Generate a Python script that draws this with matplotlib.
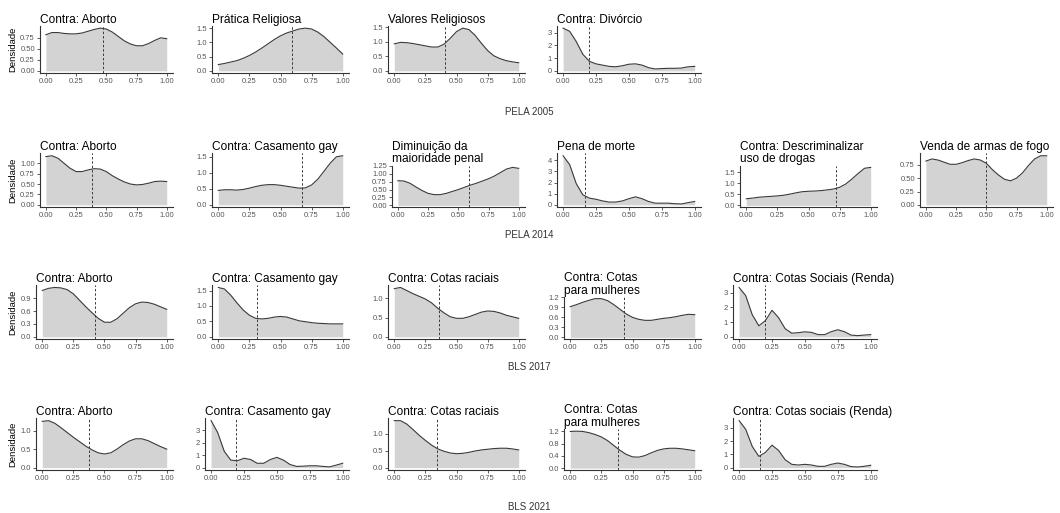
import numpy as np
import matplotlib.pyplot as plt

plt.rcParams['font.family'] = ['Liberation Sans', 'DejaVu Sans']

# points where the densities were evaluated
x_grid = np.linspace(0, 1, 21)

# PELA 2005
pela05_titles = ['Contra: Aborto', 'Prática Religiosa', 'Valores Religiosos', 'Contra: Divórcio']
pela05_aborto = [0.82, 0.87, 0.87, 0.85, 0.84, 0.84, 0.86, 0.90, 0.94, 0.97, 0.95, 0.88, 0.78, 0.68, 0.61, 0.57, 0.57, 0.62, 0.69, 0.75, 0.73]
pela05_pratica = [0.22, 0.26, 0.31, 0.36, 0.44, 0.54, 0.66, 0.80, 0.95, 1.10, 1.23, 1.33, 1.40, 1.47, 1.50, 1.47, 1.36, 1.20, 1.00, 0.80, 0.59]
pela05_valores = [0.93, 0.98, 0.97, 0.94, 0.90, 0.86, 0.82, 0.82, 0.92, 1.12, 1.35, 1.47, 1.42, 1.22, 0.95, 0.70, 0.52, 0.42, 0.35, 0.31, 0.28]
pela05_divorcio = [3.35, 3.10, 2.30, 1.30, 0.75, 0.55, 0.45, 0.35, 0.32, 0.40, 0.52, 0.55, 0.45, 0.25, 0.15, 0.18, 0.20, 0.20, 0.22, 0.32, 0.35]
pela05_medians = [0.475, 0.595, 0.41, 0.20]
pela05_yticks = [[0, 0.25, 0.5, 0.75], [0, 0.5, 1.0, 1.5], [0, 0.5, 1.0, 1.5], [0, 1, 2, 3]]
pela05_decimals = [2, 1, 1, 0]

# PELA 2014
pela14_titles = ['Contra: Aborto', 'Contra: Casamento gay', 'Diminuição da\nmaioridade penal',
                 'Pena de morte', 'Contra: Descriminalizar\nuso de drogas', 'Venda de armas de fogo']
pela14_aborto = [1.16, 1.18, 1.12, 1.00, 0.88, 0.80, 0.80, 0.84, 0.87, 0.86, 0.80, 0.70, 0.62, 0.55, 0.50, 0.48, 0.49, 0.52, 0.56, 0.57, 0.56]
pela14_casamento = [0.45, 0.47, 0.47, 0.46, 0.48, 0.52, 0.57, 0.61, 0.63, 0.63, 0.61, 0.58, 0.55, 0.52, 0.53, 0.62, 0.80, 1.05, 1.30, 1.50, 1.53]
pela14_maioridade = [0.78, 0.77, 0.70, 0.58, 0.47, 0.38, 0.34, 0.34, 0.38, 0.44, 0.50, 0.57, 0.64, 0.70, 0.77, 0.84, 0.93, 1.04, 1.15, 1.20, 1.17]
pela14_pena = [4.40, 3.60, 1.90, 0.90, 0.60, 0.50, 0.35, 0.25, 0.25, 0.35, 0.55, 0.72, 0.55, 0.30, 0.15, 0.15, 0.15, 0.10, 0.08, 0.20, 0.30]
pela14_drogas = [0.30, 0.33, 0.37, 0.39, 0.41, 0.43, 0.46, 0.51, 0.57, 0.62, 0.64, 0.65, 0.67, 0.70, 0.74, 0.82, 0.97, 1.20, 1.45, 1.68, 1.72]
pela14_armas = [0.82, 0.86, 0.84, 0.80, 0.76, 0.76, 0.79, 0.83, 0.86, 0.84, 0.78, 0.66, 0.56, 0.48, 0.45, 0.50, 0.60, 0.74, 0.86, 0.92, 0.92]
pela14_medians = [0.385, 0.675, 0.59, 0.17, 0.725, 0.50]
pela14_yticks = [[0, 0.25, 0.5, 0.75, 1.0], [0, 0.5, 1.0, 1.5], [0, 0.25, 0.5, 0.75, 1.0, 1.25],
                 [0, 1, 2, 3, 4], [0, 0.5, 1.0, 1.5], [0, 0.25, 0.5, 0.75]]
pela14_decimals = [2, 1, 2, 0, 1, 2]

# BLS 2017
bls17_titles = ['Contra: Aborto', 'Contra: Casamento gay', 'Contra: Cotas raciais',
                'Contra: Cotas\npara mulheres', 'Contra: Cotas Sociais (Renda)']
bls17_aborto = [1.08, 1.13, 1.15, 1.14, 1.10, 1.00, 0.85, 0.70, 0.56, 0.43, 0.34, 0.34, 0.42, 0.55, 0.68, 0.77, 0.81, 0.80, 0.76, 0.70, 0.64]
bls17_casamento = [1.60, 1.55, 1.35, 1.10, 0.87, 0.70, 0.60, 0.58, 0.60, 0.64, 0.66, 0.64, 0.58, 0.52, 0.49, 0.46, 0.44, 0.43, 0.42, 0.42, 0.42]
bls17_raciais = [1.25, 1.28, 1.20, 1.12, 1.05, 0.98, 0.88, 0.74, 0.62, 0.52, 0.48, 0.48, 0.52, 0.58, 0.64, 0.67, 0.66, 0.62, 0.56, 0.52, 0.48]
bls17_mulheres = [0.92, 0.98, 1.05, 1.11, 1.16, 1.16, 1.10, 0.98, 0.84, 0.70, 0.60, 0.54, 0.51, 0.51, 0.54, 0.57, 0.59, 0.62, 0.66, 0.69, 0.68]
bls17_sociais = [3.35, 2.80, 1.50, 0.75, 1.10, 1.80, 1.30, 0.55, 0.25, 0.28, 0.34, 0.30, 0.15, 0.15, 0.35, 0.48, 0.35, 0.12, 0.08, 0.12, 0.15]
bls17_medians = [0.42, 0.315, 0.36, 0.43, 0.195]
bls17_yticks = [[0, 0.3, 0.6, 0.9], [0, 0.5, 1.0, 1.5], [0, 0.5, 1.0], [0, 0.3, 0.6, 0.9, 1.2], [0, 1, 2, 3]]
bls17_decimals = [1, 1, 1, 1, 0]

# BLS 2021
bls21_titles = ['Contra: Aborto', 'Contra: Casamento gay', 'Contra: Cotas raciais',
                'Contra: Cotas\npara mulheres', 'Contra: Cotas sociais (Renda)']
bls21_aborto = [1.25, 1.27, 1.20, 1.08, 0.95, 0.82, 0.70, 0.58, 0.48, 0.40, 0.37, 0.40, 0.50, 0.62, 0.72, 0.78, 0.78, 0.73, 0.65, 0.57, 0.50]
bls21_casamento = [3.75, 2.80, 1.30, 0.60, 0.55, 0.75, 0.65, 0.35, 0.35, 0.65, 0.82, 0.60, 0.25, 0.10, 0.12, 0.15, 0.15, 0.10, 0.06, 0.20, 0.35]
bls21_raciais = [1.38, 1.38, 1.28, 1.12, 0.95, 0.80, 0.66, 0.55, 0.48, 0.43, 0.41, 0.42, 0.45, 0.49, 0.52, 0.54, 0.56, 0.57, 0.57, 0.55, 0.52]
bls21_mulheres = [1.20, 1.21, 1.20, 1.16, 1.10, 1.02, 0.90, 0.74, 0.58, 0.45, 0.37, 0.36, 0.41, 0.50, 0.58, 0.63, 0.65, 0.65, 0.63, 0.60, 0.57]
bls21_sociais = [3.55, 2.90, 1.60, 0.85, 1.15, 1.70, 1.30, 0.60, 0.25, 0.20, 0.25, 0.20, 0.10, 0.10, 0.25, 0.35, 0.25, 0.08, 0.05, 0.10, 0.18]
bls21_medians = [0.375, 0.19, 0.34, 0.38, 0.16]
bls21_yticks = [[0, 0.5, 1.0], [0, 1, 2, 3], [0, 0.5, 1.0], [0, 0.4, 0.8, 1.2], [0, 1, 2, 3]]
bls21_decimals = [1, 0, 1, 1, 0]

rows = [
    ('PELA 2005', pela05_titles, [pela05_aborto, pela05_pratica, pela05_valores, pela05_divorcio],
     pela05_medians, pela05_yticks, pela05_decimals),
    ('PELA 2014', pela14_titles, [pela14_aborto, pela14_casamento, pela14_maioridade, pela14_pena,
                                  pela14_drogas, pela14_armas],
     pela14_medians, pela14_yticks, pela14_decimals),
    ('BLS 2017', bls17_titles, [bls17_aborto, bls17_casamento, bls17_raciais, bls17_mulheres, bls17_sociais],
     bls17_medians, bls17_yticks, bls17_decimals),
    ('BLS 2021', bls21_titles, [bls21_aborto, bls21_casamento, bls21_raciais, bls21_mulheres, bls21_sociais],
     bls21_medians, bls21_yticks, bls21_decimals),
]

# layout in pixels: panel bottom, top for one-line title, top for two-line title
W, H = 1060, 513
row_layout = [(73, 26, 38), (207.3, 153.3, 165.5), (339.3, 285, 296.7), (470, 418.3, 429.3)]
caption_y = [112, 235, 367, 506.5]

fig = plt.figure(figsize=(W / 100, H / 100), dpi=100)

for r, (caption, titles, curves, medians, yticks, decimals) in enumerate(rows):
    bottom, top1, top2 = row_layout[r]
    for c, curve in enumerate(curves):
        # panels shift right when the y tick labels are wider
        n_chars = 1 if decimals[c] == 0 else decimals[c] + 2
        x0 = 176 * c + 31.5 + 3.6 * n_chars
        x1 = 166.7 + 176 * c
        pad = 0.05 * (x1 - x0)
        left, right = x0 - pad, x1 + pad
        top = top2 if '\n' in titles[c] else top1
        ax = fig.add_axes([left / W, 1 - bottom / H, (right - left) / W, (bottom - top) / H])

        ax.fill_between(x_grid, curve, color='#d3d3d3', lw=0)
        ax.plot(x_grid, curve, color='#3a3a3a', lw=0.8)
        ax.axvline(medians[c], color='#3a3a3a', lw=0.7, ls=(0, (2.5, 2)))

        ymax = max(curve)
        ax.set_xlim(-0.05, 1.05)
        ax.set_ylim(-0.05 * ymax, 1.05 * ymax)

        xt = [0, 0.25, 0.5, 0.75, 1.0]
        ax.set_xticks(xt)
        ax.set_xticklabels([f'{v:.2f}' for v in xt])
        ax.set_yticks(yticks[c])
        ax.set_yticklabels([f'{v:.{decimals[c]}f}' for v in yticks[c]])
        ax.tick_params(labelsize=5.5, labelcolor='#555555', color='#444444',
                       length=2, width=0.6, pad=1.5)

        for side in ['top', 'right']:
            ax.spines[side].set_visible(False)
        for side in ['left', 'bottom']:
            ax.spines[side].set_color('#333333')
            ax.spines[side].set_linewidth(0.8)

        ax.set_title(titles[c], loc='left', fontsize=8.6, pad=2.2, linespacing=1.1, color='black')

        if c == 0:
            fig.text(13 / W, 1 - (top + bottom) / 2 / H, 'Densidade', rotation=90,
                     ha='center', va='center', fontsize=6.8, color='black')

    fig.text(529 / W, 1 - caption_y[r] / H, caption, ha='center', va='center',
             fontsize=7, color='#333333')

fig.savefig('out.png', dpi=100)
